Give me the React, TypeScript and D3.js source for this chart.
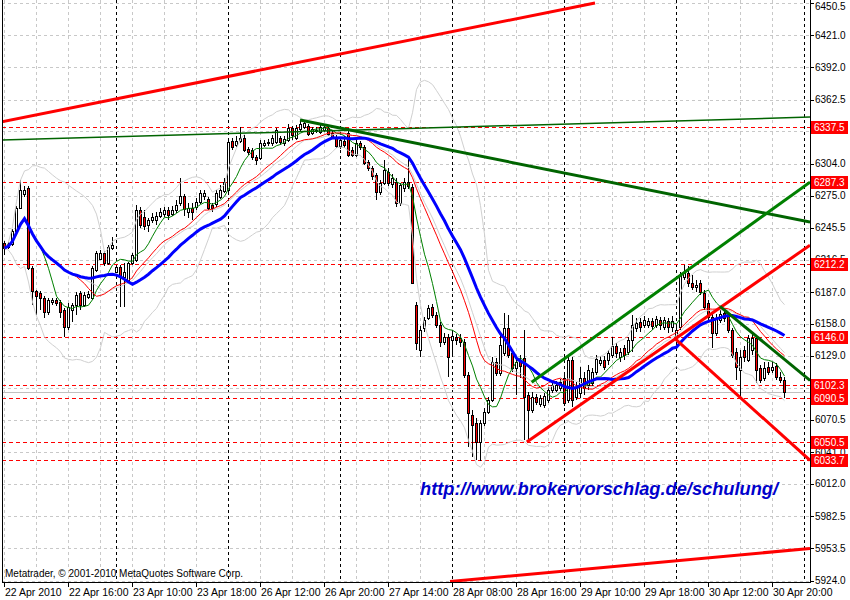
import * as d3 from "d3"
import { useMemo } from "react"

// DAX M30, 22 Apr 2010 08:00 .. 30 Apr 2010 21:30, one value per bar
const openP = [
  6231.5, 6227.9, 6230.6, 6242.5, 6263.4, 6276.2, 6281.7, 6208.7, 6187.7, 6185.9,
  6181.3, 6168.6, 6177.7, 6179.5, 6177.7, 6170.4, 6154.9, 6170.4, 6175.0, 6185.9,
  6175.0, 6182.3, 6181.3, 6206.9, 6216.9, 6222.4, 6213.3, 6227.0, 6205.0, 6209.6,
  6200.5, 6197.8, 6213.3, 6216.0, 6261.6, 6255.2, 6248.0, 6252.5, 6252.5, 6256.2,
  6258.0, 6261.6, 6258.0, 6261.6, 6268.0, 6274.4, 6259.8, 6263.4, 6264.4, 6268.9,
  6274.4, 6271.7, 6266.2, 6267.1, 6273.5, 6279.0, 6279.9, 6324.6, 6320.9, 6324.6,
  6327.3, 6317.3, 6316.4, 6310.0, 6309.1, 6320.9, 6322.8, 6322.8, 6323.7, 6327.3,
  6322.8, 6325.5, 6336.4, 6327.3, 6335.5, 6337.4, 6338.3, 6331.9, 6333.7, 6332.8,
  6334.6, 6336.4, 6331.9, 6328.3, 6320.0, 6324.6, 6331.9, 6316.4, 6311.8, 6322.8,
  6319.1, 6305.4, 6300.0, 6293.6, 6278.1, 6286.3, 6296.3, 6285.4, 6287.2, 6268.0,
  6281.7, 6287.2, 6282.6, 6175.0, 6133.9, 6154.0, 6163.1, 6173.1, 6165.8, 6156.7,
  6141.2, 6145.7, 6143.0, 6145.7, 6144.8, 6141.2, 6111.1, 6074.6, 6067.3, 6049.9,
  6067.3, 6077.3, 6088.3, 6122.9, 6112.9, 6131.1, 6154.0, 6131.1, 6117.4, 6124.8,
  6126.6, 6092.8, 6079.1, 6091.0, 6084.6, 6083.7, 6088.3, 6097.4, 6097.4, 6099.2,
  6108.3, 6088.3, 6124.8, 6091.0, 6094.6, 6108.3, 6101.9, 6103.8, 6113.8, 6122.0,
  6124.8, 6124.8, 6129.3, 6137.5, 6127.5, 6135.7, 6132.0, 6143.0, 6154.0, 6159.4,
  6156.7, 6156.7, 6160.3, 6156.7, 6161.3, 6154.9, 6160.3, 6154.9, 6145.7, 6154.9,
  6200.5, 6204.1, 6195.0, 6191.4, 6195.0, 6185.9, 6176.8, 6164.0, 6149.4, 6161.3,
  6167.6, 6164.9, 6152.1, 6132.0, 6115.6, 6133.9, 6124.8, 6133.9, 6144.8, 6117.4,
  6108.3, 6118.4, 6115.6, 6119.3, 6109.2, 6106.5,
]
const highP = [
  6233.3, 6232.4, 6244.3, 6265.3, 6289.0, 6283.5, 6283.5, 6210.5, 6188.6, 6187.7,
  6183.2, 6181.3, 6181.3, 6181.3, 6179.5, 6172.2, 6176.8, 6176.8, 6186.8, 6187.7,
  6186.8, 6187.7, 6210.5, 6224.2, 6225.1, 6224.2, 6229.7, 6237.0, 6211.4, 6211.4,
  6213.3, 6214.2, 6222.4, 6266.2, 6264.4, 6261.6, 6254.3, 6258.9, 6259.8, 6263.4,
  6264.4, 6264.4, 6265.3, 6270.8, 6290.8, 6276.2, 6268.0, 6268.0, 6272.6, 6279.9,
  6279.9, 6273.5, 6268.0, 6279.9, 6284.4, 6290.8, 6325.5, 6327.3, 6329.2, 6337.4,
  6330.1, 6319.1, 6318.2, 6311.8, 6325.5, 6325.5, 6326.4, 6330.1, 6336.4, 6329.2,
  6329.2, 6340.1, 6338.3, 6339.2, 6343.8, 6342.8, 6340.1, 6337.4, 6337.4, 6339.2,
  6340.1, 6338.3, 6333.7, 6330.1, 6328.3, 6329.2, 6336.4, 6319.1, 6325.5, 6324.6,
  6320.9, 6307.3, 6301.8, 6295.4, 6289.0, 6307.3, 6300.0, 6294.5, 6290.8, 6286.3,
  6290.8, 6309.1, 6285.4, 6177.7, 6155.8, 6164.0, 6175.0, 6175.9, 6168.6, 6159.4,
  6149.4, 6148.5, 6152.1, 6148.5, 6148.5, 6143.9, 6113.8, 6079.1, 6071.8, 6070.0,
  6080.9, 6091.0, 6127.5, 6126.6, 6149.4, 6167.6, 6165.8, 6133.9, 6127.5, 6129.3,
  6152.1, 6095.5, 6095.5, 6093.7, 6092.8, 6094.6, 6100.1, 6104.7, 6105.6, 6107.4,
  6111.1, 6127.5, 6127.5, 6104.7, 6118.4, 6113.8, 6120.2, 6117.4, 6129.3, 6128.4,
  6128.4, 6133.9, 6145.7, 6140.3, 6135.7, 6138.4, 6145.7, 6165.8, 6163.1, 6163.1,
  6164.9, 6163.1, 6163.1, 6164.9, 6164.0, 6164.0, 6163.1, 6164.9, 6154.9, 6205.0,
  6211.4, 6210.5, 6202.3, 6197.8, 6197.8, 6188.6, 6179.5, 6166.7, 6166.7, 6170.4,
  6171.3, 6167.6, 6154.0, 6135.7, 6133.9, 6137.5, 6147.6, 6150.3, 6147.6, 6120.2,
  6122.9, 6122.9, 6122.9, 6122.0, 6113.8, 6109.2,
]
const lowP = [
  6220.6, 6226.0, 6228.8, 6242.5, 6262.5, 6273.5, 6206.9, 6175.0, 6165.8, 6170.4,
  6163.1, 6165.8, 6175.0, 6174.0, 6163.1, 6145.7, 6152.1, 6159.4, 6165.8, 6170.4,
  6173.1, 6180.4, 6179.5, 6205.0, 6216.0, 6210.5, 6211.4, 6225.1, 6204.1, 6173.1,
  6173.1, 6195.0, 6211.4, 6214.2, 6245.2, 6243.4, 6241.5, 6249.8, 6248.0, 6254.3,
  6255.2, 6252.5, 6256.2, 6258.9, 6265.3, 6256.2, 6254.3, 6252.5, 6261.6, 6267.1,
  6270.8, 6261.6, 6259.8, 6264.4, 6271.7, 6277.1, 6278.1, 6316.4, 6319.1, 6322.8,
  6314.6, 6311.8, 6307.3, 6302.7, 6307.3, 6319.1, 6320.0, 6320.0, 6321.8, 6320.9,
  6320.0, 6323.7, 6325.5, 6325.5, 6333.7, 6335.5, 6329.2, 6330.1, 6331.9, 6331.0,
  6332.8, 6329.2, 6326.4, 6318.2, 6317.3, 6318.2, 6310.0, 6310.0, 6310.0, 6316.4,
  6302.7, 6297.2, 6289.0, 6270.8, 6275.3, 6284.4, 6283.5, 6281.7, 6264.4, 6265.3,
  6278.1, 6280.8, 6194.1, 6133.9, 6127.5, 6150.3, 6161.3, 6163.1, 6154.0, 6136.6,
  6138.5, 6109.2, 6129.3, 6138.5, 6136.6, 6108.3, 6045.4, 6036.2, 6033.5, 6032.6,
  6064.5, 6075.5, 6086.4, 6110.2, 6110.2, 6128.4, 6126.6, 6113.8, 6092.8, 6108.3,
  6051.8, 6049.9, 6076.4, 6083.7, 6081.9, 6080.9, 6085.5, 6094.6, 6095.5, 6096.5,
  6082.8, 6085.5, 6081.9, 6088.3, 6090.1, 6092.8, 6097.4, 6101.0, 6111.1, 6119.3,
  6115.6, 6120.2, 6126.6, 6126.6, 6122.9, 6124.8, 6129.3, 6132.0, 6150.3, 6150.3,
  6154.0, 6154.0, 6152.1, 6154.0, 6152.1, 6152.1, 6149.4, 6150.3, 6143.0, 6152.1,
  6197.8, 6191.4, 6188.6, 6186.8, 6184.1, 6170.4, 6161.3, 6135.7, 6146.7, 6158.5,
  6159.4, 6149.4, 6126.6, 6106.5, 6091.0, 6122.9, 6122.9, 6129.3, 6103.8, 6103.8,
  6105.6, 6111.1, 6112.9, 6106.5, 6103.8, 6090.1,
]
const closeP = [
  6227.0, 6230.6, 6242.5, 6263.4, 6279.9, 6279.9, 6208.7, 6187.7, 6183.2, 6181.3,
  6168.6, 6179.5, 6179.5, 6176.8, 6168.6, 6154.9, 6173.1, 6175.0, 6184.1, 6175.0,
  6184.1, 6185.0, 6208.7, 6222.4, 6222.4, 6213.3, 6227.9, 6229.7, 6209.6, 6200.5,
  6205.0, 6213.3, 6220.6, 6261.6, 6247.9, 6247.0, 6252.5, 6255.2, 6256.2, 6259.8,
  6261.6, 6257.1, 6261.6, 6266.2, 6274.4, 6262.5, 6263.4, 6259.8, 6268.9, 6277.1,
  6277.1, 6263.4, 6263.4, 6277.1, 6279.9, 6287.2, 6323.7, 6319.1, 6324.6, 6327.3,
  6316.4, 6314.6, 6310.0, 6307.3, 6322.8, 6322.8, 6323.7, 6327.3, 6334.6, 6323.7,
  6326.4, 6336.4, 6330.1, 6336.4, 6340.1, 6341.0, 6331.0, 6335.5, 6334.6, 6337.4,
  6337.4, 6331.0, 6328.3, 6320.0, 6325.5, 6320.9, 6311.8, 6311.8, 6322.8, 6319.1,
  6304.5, 6300.0, 6292.7, 6278.1, 6286.3, 6298.1, 6286.3, 6290.8, 6268.0, 6284.4,
  6287.2, 6283.5, 6195.0, 6140.3, 6152.1, 6161.3, 6172.2, 6165.8, 6156.7, 6141.2,
  6145.7, 6127.5, 6146.7, 6143.0, 6141.2, 6111.1, 6076.4, 6065.4, 6049.9, 6067.3,
  6077.3, 6088.3, 6122.9, 6112.9, 6138.4, 6154.0, 6129.3, 6117.4, 6122.9, 6119.3,
  6091.0, 6079.1, 6091.0, 6086.4, 6090.1, 6091.9, 6097.4, 6101.9, 6101.9, 6104.7,
  6085.5, 6124.8, 6088.3, 6100.1, 6108.3, 6099.2, 6115.6, 6113.8, 6125.7, 6124.8,
  6118.4, 6131.1, 6137.5, 6131.1, 6132.0, 6129.3, 6143.0, 6156.7, 6158.5, 6154.9,
  6161.3, 6160.3, 6155.8, 6162.2, 6156.7, 6161.3, 6154.9, 6160.3, 6152.1, 6202.3,
  6204.1, 6195.0, 6191.4, 6193.2, 6186.8, 6173.1, 6164.0, 6149.4, 6163.1, 6166.7,
  6163.1, 6152.1, 6129.3, 6118.4, 6127.5, 6127.5, 6144.8, 6144.8, 6115.6, 6106.5,
  6117.4, 6113.8, 6118.4, 6109.2, 6106.5, 6095.5,
]

const priceTicks = [
  6450.5, 6421.0, 6392.0, 6362.5, 6333.5, 6304.0, 6275.0, 6245.5, 6216.5, 6187.0,
  6158.0, 6129.0, 6099.5, 6070.5, 6041.0, 6012.0, 5982.5, 5953.5, 5924.0,
]
const timeLabels = [
  "22 Apr 2010", "22 Apr 16:00", "23 Apr 10:00", "23 Apr 18:00", "26 Apr 12:00",
  "26 Apr 20:00", "27 Apr 14:00", "28 Apr 08:00", "28 Apr 16:00", "29 Apr 10:00",
  "29 Apr 18:00", "30 Apr 12:00", "30 Apr 20:00",
]
const labelEvery = 16 // bars between time labels
const gridEvery = 8
const daySeparators = [28, 56, 84, 112, 140, 168, 200]
const levelLines = [6337.5, 6287.3, 6212.2, 6146.0, 6102.3, 6090.5, 6050.5, 6033.7]
const bidPrice = 6095.5

// trend lines as [bar, price] end points
const topRed = [[-1, 6341.9], [147.75, 6450.5]]
const flatGreen = [[-1, 6325.5], [201.5, 6346.5]]
const fallGreen = [[74, 6343.8], [201.5, 6250.7]]
const channelGreen = [[131.9, 6104.7], [201.5, 6287.2]]
const channelRed = [[130.7, 6050.2], [201.5, 6229.7]]
const dropRed = [[167.75, 6144.5], [201.5, 6033.5]]
const dropGreen = [[179, 6174.0], [201.5, 6106.5]]
const bottomRed = [[111.5, 5923.1], [201.5, 5953.2]]

const sma = (vals: number[], n: number) =>
  vals.map((_, i) => d3.mean(vals.slice(Math.max(0, i - n + 1), i + 1)) as number)

const bollinger = (vals: number[], n: number, k: number) =>
  vals.map((_, i) => {
    const w = vals.slice(Math.max(0, i - n + 1), i + 1)
    const m = d3.mean(w) as number
    const sd = Math.sqrt(d3.mean(w.map((v) => (v - m) ** 2)) as number)
    return { mid: m, up: m + k * sd, lo: m - k * sd }
  })

const FONT = "'Liberation Sans', Arial, sans-serif"

export default function App() {
  const width = 850
  const height = 600
  const left = 2
  const right = 810
  const bottom = 582

  const x = d3.scaleLinear().domain([0, 195]).range([4, 784])
  const y = d3.scaleLinear().domain([5924, 6450.5]).range([580.5, 3])

  const { ma8, ma18, ma27, bb } = useMemo(
    () => ({
      ma8: sma(closeP, 8),
      ma18: sma(closeP, 18),
      ma27: sma(closeP, 27),
      bb: bollinger(closeP, 20, 2),
    }),
    []
  )

  const path = (vals: number[]) =>
    d3
      .line<number>()
      .x((_, i) => x(i) + 0.5)
      .y((v) => y(v))(vals) as string

  const seg = (p: number[][]) => ({ x1: x(p[0][0]), y1: y(p[0][1]), x2: x(p[1][0]), y2: y(p[1][1]) })

  const crisp = (v: number) => Math.round(v) + 0.5

  // tick labels that a level box hides completely are not drawn (as in the terminal)
  const shownTicks = priceTicks.filter(
    (t) => !levelLines.some((l) => Math.abs(y(l) - y(t)) < 4.5)
  )

  return (
    <svg
      width={width}
      height={height}
      style={{ position: "absolute", left: 0, top: 0, background: "#fff" }}
      fontFamily={FONT}
    >
      <defs>
        <clipPath id="plot">
          <rect x={left} y={0} width={right - left} height={bottom} />
        </clipPath>
      </defs>
      <rect width={width} height={height} fill="#fff" />

      <g clipPath="url(#plot)">
        {/* grid */}
        {priceTicks.map((t) => (
          <line key={"h" + t} x1={left} x2={right} y1={crisp(y(t))} y2={crisp(y(t))}
            stroke="#c8c8c8" strokeDasharray="3,3" />
        ))}
        {d3.range(0, 202, gridEvery).map((b) => (
          <line key={"v" + b} x1={x(b) + 0.5} x2={x(b) + 0.5} y1={0} y2={bottom}
            stroke="#c8c8c8" strokeDasharray="3,3" />
        ))}
        {daySeparators.map((b) => (
          <line key={"d" + b} x1={x(b) + 0.5} x2={x(b) + 0.5} y1={0} y2={bottom}
            stroke="#000" strokeDasharray="3,3" />
        ))}
        {levelLines.map((l) => (
          <line key={"l" + l} x1={left} x2={right} y1={crisp(y(l))} y2={crisp(y(l))}
            stroke="#ff0000" strokeDasharray="4,3" />
        ))}
        <line x1={left} x2={right} y1={crisp(y(bidPrice))} y2={crisp(y(bidPrice))} stroke="#c0c0c0" />

        {/* candles */}
        <g shapeRendering="crispEdges">
          {closeP.map((c, i) => {
            const o = openP[i]
            const cx = x(i)
            const top = Math.round(y(Math.max(o, c)))
            const bot = Math.round(y(Math.min(o, c)))
            return (
              <g key={i}>
                <line x1={cx + 0.5} x2={cx + 0.5} y1={y(highP[i])} y2={y(lowP[i])} stroke="#000" />
                <rect x={cx - 0.5} y={top + 0.5} width={2} height={Math.max(1, bot - top)}
                  fill={c >= o ? "#fff" : "#ff0000"} stroke="#000" />
              </g>
            )
          })}
        </g>

        {/* indicators */}
        <g fill="none">
          <path d={path(bb.map((b) => b.up))} stroke="#d0d0d0" />
          <path d={path(bb.map((b) => b.lo))} stroke="#d0d0d0" />
          <path d={path(bb.map((b) => b.mid))} stroke="#d0d0d0" />
          <path d={path(ma8)} stroke="#008000" />
          <path d={path(ma18)} stroke="#ff0000" />
          <path d={path(ma27)} stroke="#0000ff" strokeWidth={3} />
        </g>

        {/* trend lines */}
        <g strokeLinecap="butt">
          <line {...seg(topRed)} stroke="#ff0000" strokeWidth={3} />
          <line {...seg(flatGreen)} stroke="#006400" strokeWidth={1.5} />
          <line {...seg(fallGreen)} stroke="#006400" strokeWidth={3} />
          <line {...seg(channelGreen)} stroke="#008000" strokeWidth={3} />
          <line {...seg(channelRed)} stroke="#ff0000" strokeWidth={3} />
          <line {...seg(dropRed)} stroke="#ff0000" strokeWidth={3} />
          <line {...seg(dropGreen)} stroke="#006400" strokeWidth={3} />
          <line {...seg(bottomRed)} stroke="#ff0000" strokeWidth={3} />
        </g>

        <text x={420} y={495} fontSize={18} fontWeight="bold" fontStyle="italic" fill="#0000cc"
          textLength={358} lengthAdjust="spacingAndGlyphs">
          http://www.brokervorschlag.de/schulung/
        </text>
        <text x={5} y={577} fontSize={10} fill="#000">
          Metatrader, © 2001-2010 MetaQuotes Software Corp.
        </text>
      </g>

      {/* frame */}
      <g shapeRendering="crispEdges" stroke="#000">
        <line x1={left + 0.5} x2={left + 0.5} y1={0} y2={bottom} />
        <line x1={right + 0.5} x2={right + 0.5} y1={0} y2={bottom + 1} />
        <line x1={left} x2={right + 1} y1={bottom + 0.5} y2={bottom + 0.5} />
      </g>

      {/* price axis */}
      {priceTicks.map((t) => (
        <line key={"m" + t} x1={right} x2={right + 4} y1={crisp(y(t))} y2={crisp(y(t))} stroke="#000" />
      ))}
      {shownTicks.map((t) => (
        <text key={"t" + t} x={815} y={Math.max(y(t) + 3.5, 10)} fontSize={10} fill="#000">
          {t.toFixed(1)}
        </text>
      ))}
      {levelLines.map((l) => (
        <g key={"b" + l}>
          <rect x={811} y={Math.round(y(l)) - 6} width={37} height={13} fill="#ff0000" />
          <text x={814} y={y(l) + 4} fontSize={10} fill="#fff">{l.toFixed(1)}</text>
        </g>
      ))}

      {/* time axis */}
      {timeLabels.map((lab, k) => {
        const tx = x(k * labelEvery)
        return (
          <g key={lab}>
            <line x1={tx + 0.5} x2={tx + 0.5} y1={bottom} y2={bottom + 5} stroke="#000" />
            <text x={tx + 1} y={596} fontSize={10.5} fill="#000">{lab}</text>
          </g>
        )
      })}
    </svg>
  )
}
